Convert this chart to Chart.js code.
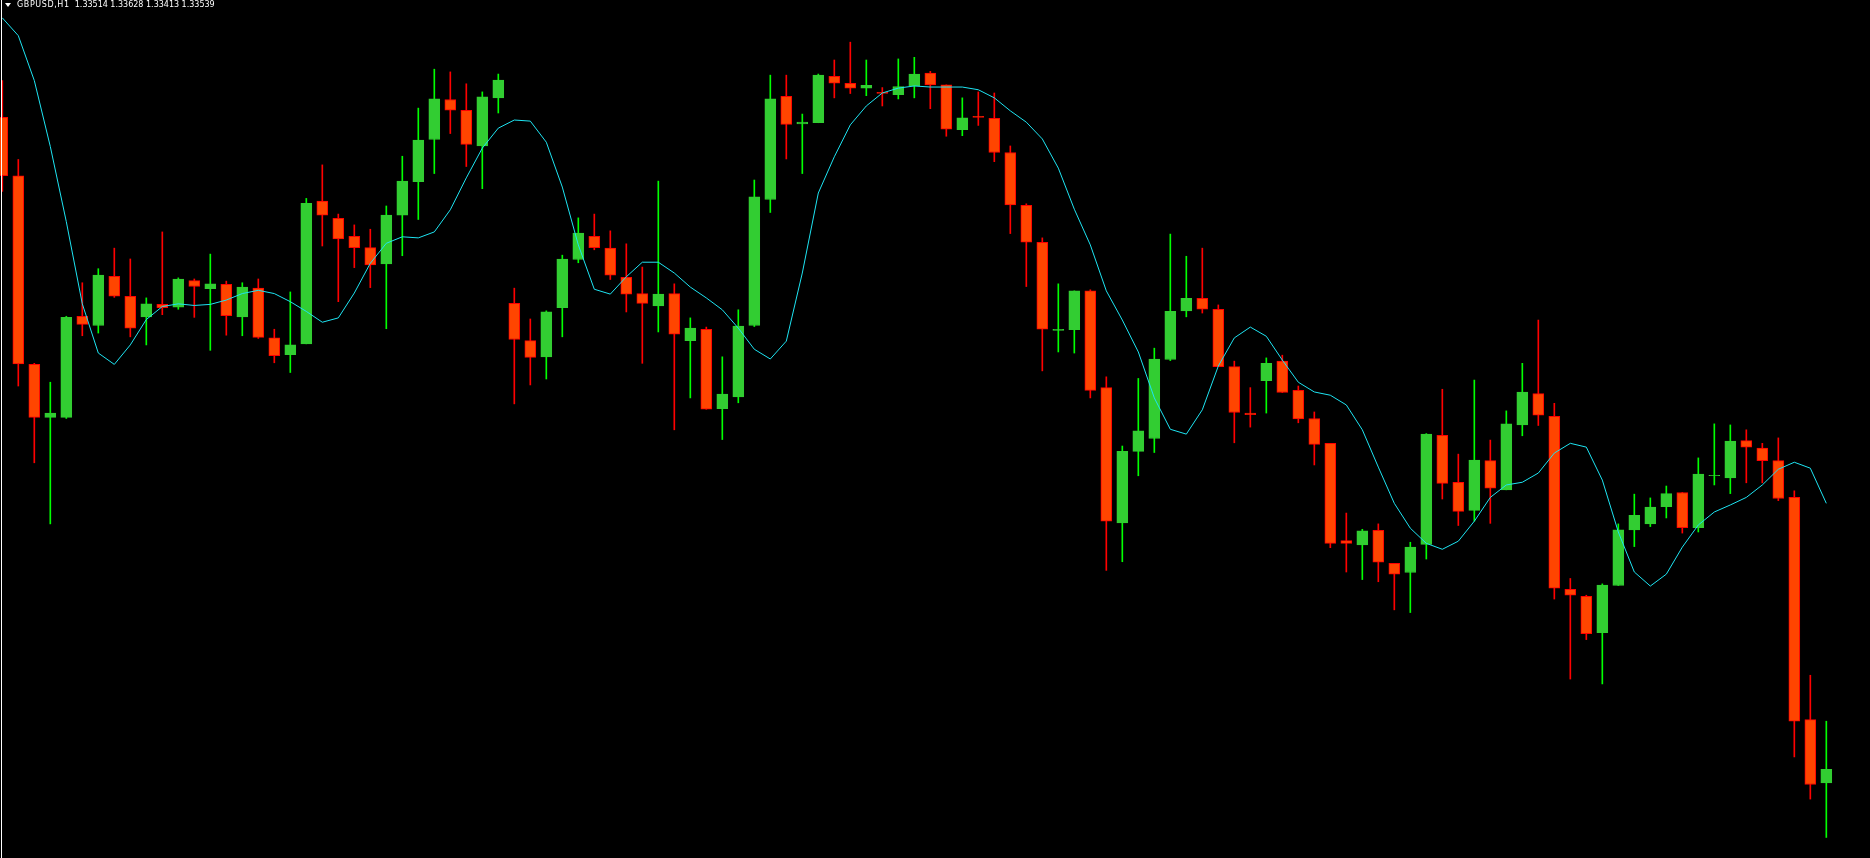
<!DOCTYPE html>
<html>
<head>
<meta charset="utf-8">
<title>GBPUSD,H1</title>
<script src="https://cdn.jsdelivr.net/npm/chart.js@4.4.1/dist/chart.umd.min.js"></script>
<style>
  html, body { margin: 0; padding: 0; background: #000; overflow: hidden; }
  #wrap { position: relative; width: 1870px; height: 858px; }
  #priceChart { position: absolute; left: 0; top: 0; }
  #edge { position: absolute; left: 1px; top: 0; width: 1px; height: 858px; background: #fff; }
  #arrow { position: absolute; left: 5px; top: 3px; width: 0; height: 0;
    border-left: 3.5px solid transparent; border-right: 3.5px solid transparent; border-top: 4px solid #fff; }
  #header { position: absolute; left: 17px; top: 1px; color: #fff; font: 8px/8px "DejaVu Sans", sans-serif;
    white-space: pre; }
  #symbolName { letter-spacing: 0.6px; }
</style>
</head>
<body>
<div id="wrap">
  <canvas id="priceChart" width="1870" height="858"></canvas>
  <div id="edge"></div>
  <div id="arrow"></div>
  <div id="header"><span id="symbolName"></span><span id="lastBar"></span></div>
</div>
<script>
// GBPUSD H1 candles, oldest first
const symbol = 'GBPUSD,H1';

const opens = [
  1.34745, 1.34637, 1.34288, 1.34190, 1.34190, 1.34377, 1.34360, 1.34451, 1.34414, 1.34376,
  1.34399, 1.34394, 1.34443, 1.34428, 1.34436, 1.34376, 1.34429, 1.34337, 1.34306, 1.34326,
  1.34590, 1.34558, 1.34525, 1.34504, 1.34474, 1.34564, 1.34626, 1.34704, 1.34778, 1.34758,
  1.34692, 1.34781, 1.34401, 1.34332, 1.34302, 1.34393, 1.34482, 1.34525, 1.34503, 1.34449,
  1.34419, 1.34396, 1.34419, 1.34332, 1.34353, 1.34206, 1.34228, 1.34360, 1.34593, 1.34784,
  1.34733, 1.34735, 1.34821, 1.34808, 1.34799, 1.34791, 1.34787, 1.34803, 1.34827, 1.34805,
  1.34722, 1.34747, 1.34743, 1.34680, 1.34582, 1.34514, 1.34351, 1.34352, 1.34424, 1.34245,
  1.33995, 1.34127, 1.34151, 1.34297, 1.34387, 1.34410, 1.34390, 1.34284, 1.34198, 1.34258,
  1.34294, 1.34240, 1.34188, 1.34142, 1.33962, 1.33954, 1.33981, 1.33920, 1.33903, 1.33955,
  1.34157, 1.34070, 1.34018, 1.34110, 1.34056, 1.34176, 1.34234, 1.34192, 1.33872, 1.33859,
  1.33792, 1.33879, 1.33982, 1.33993, 1.34025, 1.34051, 1.33986, 1.34082, 1.34078, 1.34147,
  1.34133, 1.34110, 1.34042, 1.33631, 1.33514
];

const highs = [
  1.34813, 1.34667, 1.34290, 1.34255, 1.34377, 1.34439, 1.34465, 1.34503, 1.34483, 1.34411,
  1.34533, 1.34448, 1.34446, 1.34492, 1.34442, 1.34439, 1.34446, 1.34353, 1.34422, 1.34595,
  1.34657, 1.34566, 1.34546, 1.34538, 1.34581, 1.34673, 1.34762, 1.34834, 1.34829, 1.34807,
  1.34792, 1.34825, 1.34429, 1.34372, 1.34387, 1.34490, 1.34559, 1.34566, 1.34535, 1.34511,
  1.34468, 1.34627, 1.34437, 1.34374, 1.34357, 1.34302, 1.34389, 1.34629, 1.34823, 1.34823,
  1.34751, 1.34825, 1.34851, 1.34884, 1.34851, 1.34800, 1.34853, 1.34856, 1.34830, 1.34805,
  1.34781, 1.34792, 1.34790, 1.34692, 1.34585, 1.34522, 1.34437, 1.34424, 1.34426, 1.34265,
  1.34137, 1.34262, 1.34318, 1.34529, 1.34488, 1.34503, 1.34398, 1.34294, 1.34245, 1.34300,
  1.34305, 1.34248, 1.34200, 1.34142, 1.34013, 1.33983, 1.33993, 1.33920, 1.33959, 1.34160,
  1.34242, 1.34122, 1.34259, 1.34148, 1.34202, 1.34290, 1.34370, 1.34216, 1.33892, 1.33861,
  1.33882, 1.33993, 1.34048, 1.34041, 1.34063, 1.34051, 1.34115, 1.34178, 1.34176, 1.34167,
  1.34142, 1.34152, 1.34054, 1.33713, 1.33628
];

const lows = [
  1.34608, 1.34248, 1.34106, 1.33993, 1.34188, 1.34341, 1.34346, 1.34412, 1.34339, 1.34324,
  1.34380, 1.34390, 1.34375, 1.34314, 1.34342, 1.34341, 1.34336, 1.34291, 1.34273, 1.34326,
  1.34507, 1.34404, 1.34467, 1.34430, 1.34354, 1.34489, 1.34556, 1.34641, 1.34715, 1.34654,
  1.34613, 1.34753, 1.34215, 1.34250, 1.34261, 1.34339, 1.34476, 1.34500, 1.34445, 1.34385,
  1.34290, 1.34348, 1.34167, 1.34226, 1.34205, 1.34149, 1.34217, 1.34358, 1.34569, 1.34668,
  1.34641, 1.34735, 1.34781, 1.34789, 1.34785, 1.34766, 1.34779, 1.34781, 1.34761, 1.34710,
  1.34711, 1.34730, 1.34663, 1.34530, 1.34432, 1.34276, 1.34311, 1.34309, 1.34226, 1.33907,
  1.33923, 1.34082, 1.34125, 1.34295, 1.34376, 1.34383, 1.34284, 1.34143, 1.34172, 1.34198,
  1.34236, 1.34180, 1.34102, 1.33949, 1.33904, 1.33890, 1.33886, 1.33834, 1.33829, 1.33928,
  1.34039, 1.33990, 1.33998, 1.33994, 1.34056, 1.34156, 1.34175, 1.33854, 1.33706, 1.33779,
  1.33697, 1.33879, 1.33951, 1.33988, 1.34004, 1.33976, 1.33978, 1.34065, 1.34049, 1.34069,
  1.34069, 1.34036, 1.33562, 1.33484, 1.33413
];

const closes = [
  1.34637, 1.34289, 1.34190, 1.34198, 1.34375, 1.34362, 1.34453, 1.34414, 1.34355, 1.34400,
  1.34393, 1.34446, 1.34432, 1.34437, 1.34378, 1.34431, 1.34338, 1.34304, 1.34324, 1.34586,
  1.34564, 1.34520, 1.34504, 1.34472, 1.34564, 1.34627, 1.34703, 1.34779, 1.34758, 1.34695,
  1.34783, 1.34814, 1.34334, 1.34301, 1.34385, 1.34483, 1.34531, 1.34504, 1.34453, 1.34418,
  1.34401, 1.34418, 1.34344, 1.34355, 1.34205, 1.34233, 1.34359, 1.34598, 1.34779, 1.34732,
  1.34736, 1.34823, 1.34808, 1.34799, 1.34804, 1.34789, 1.34802, 1.34825, 1.34805, 1.34723,
  1.34744, 1.34745, 1.34680, 1.34583, 1.34514, 1.34353, 1.34353, 1.34424, 1.34240, 1.33998,
  1.34127, 1.34165, 1.34298, 1.34386, 1.34410, 1.34390, 1.34284, 1.34199, 1.34195, 1.34290,
  1.34236, 1.34187, 1.34140, 1.33957, 1.33957, 1.33980, 1.33922, 1.33900, 1.33950, 1.34159,
  1.34068, 1.34016, 1.34111, 1.34059, 1.34178, 1.34237, 1.34194, 1.33874, 1.33861, 1.33790,
  1.33880, 1.33982, 1.34009, 1.34024, 1.34049, 1.33986, 1.34085, 1.34083, 1.34146, 1.34135,
  1.34110, 1.34040, 1.33628, 1.33511, 1.33539
];

// moving average (cyan line)
const maValues = [
  1.34929, 1.34896, 1.34813, 1.34691, 1.34552, 1.34400, 1.34309, 1.34288, 1.34324, 1.34371,
  1.34395, 1.34400, 1.34397, 1.34399, 1.34407, 1.34419, 1.34425, 1.34419, 1.34404, 1.34386,
  1.34366, 1.34374, 1.34420, 1.34475, 1.34512, 1.34524, 1.34522, 1.34533, 1.34574, 1.34633,
  1.34688, 1.34725, 1.34740, 1.34738, 1.34699, 1.34616, 1.34509, 1.34427, 1.34418, 1.34450,
  1.34477, 1.34477, 1.34457, 1.34431, 1.34411, 1.34389, 1.34355, 1.34316, 1.34298, 1.34331,
  1.34457, 1.34605, 1.34672, 1.34731, 1.34766, 1.34790, 1.34799, 1.34803, 1.34801, 1.34801,
  1.34801, 1.34796, 1.34781, 1.34757, 1.34736, 1.34705, 1.34651, 1.34575, 1.34509, 1.34424,
  1.34370, 1.34311, 1.34226, 1.34168, 1.34159, 1.34204, 1.34285, 1.34337, 1.34357, 1.34340,
  1.34296, 1.34255, 1.34237, 1.34231, 1.34213, 1.34167, 1.34098, 1.34031, 1.33985, 1.33957,
  1.33946, 1.33961, 1.33998, 1.34042, 1.34065, 1.34070, 1.34087, 1.34124, 1.34142, 1.34135,
  1.34074, 1.33978, 1.33904, 1.33878, 1.33900, 1.33950, 1.33991, 1.34015, 1.34028, 1.34042,
  1.34065, 1.34094, 1.34107, 1.34096, 1.34031
];

const priceMin = 1.33375;
const priceMax = 1.34962;

const BULL_BODY = '#32cd32';
const BULL_WICK = '#00ff00';
const BEAR_BODY = '#ff4500';
const BEAR_WICK = '#ff0000';
const MA_COLOR = '#1ee4f2';

// header line shows the last bar
const last = opens.length - 1;
document.getElementById('symbolName').textContent = symbol;
document.getElementById('lastBar').textContent =
  `  ${opens[last].toFixed(5)} ${highs[last].toFixed(5)} ${lows[last].toFixed(5)} ${closes[last].toFixed(5)}`;

const isBull = opens.map((o, i) => closes[i] >= o);
const wickData = opens.map((o, i) => ({ x: i, y: [lows[i], highs[i]] }));
const bodyData = opens.map((o, i) => ({ x: i, y: [o, closes[i]] }));
const maData = maValues.map((v, i) => ({ x: i, y: v }));

window.onload = () => {
  const ctx = document.getElementById('priceChart').getContext('2d');
  new Chart(ctx, {
    type: 'bar',
    data: {
      datasets: [
        {
          type: 'line',
          data: maData,
          borderColor: MA_COLOR,
          borderWidth: 1,
          pointRadius: 0,
          tension: 0,
          fill: false,
          order: 0
        },
        {
          data: bodyData,
          backgroundColor: isBull.map(b => b ? BULL_BODY : BEAR_BODY),
          borderColor: isBull.map(b => b ? BULL_BODY : BEAR_WICK),
          borderWidth: 1,
          borderSkipped: false,
          barThickness: 11,
          grouped: false,
          order: 1
        },
        {
          data: wickData,
          backgroundColor: isBull.map(b => b ? BULL_WICK : BEAR_WICK),
          borderWidth: 0,
          barThickness: 1,
          grouped: false,
          order: 2
        }
      ]
    },
    options: {
      responsive: false,
      animation: false,
      devicePixelRatio: 1,
      layout: { padding: 0 },
      plugins: {
        legend: { display: false },
        tooltip: { enabled: false }
      },
      scales: {
        x: { type: 'linear', display: false, offset: false, min: -0.144, max: 116.73 },
        y: { type: 'linear', display: false, min: priceMin, max: priceMax }
      }
    }
  });
};
</script>
</body>
</html>
